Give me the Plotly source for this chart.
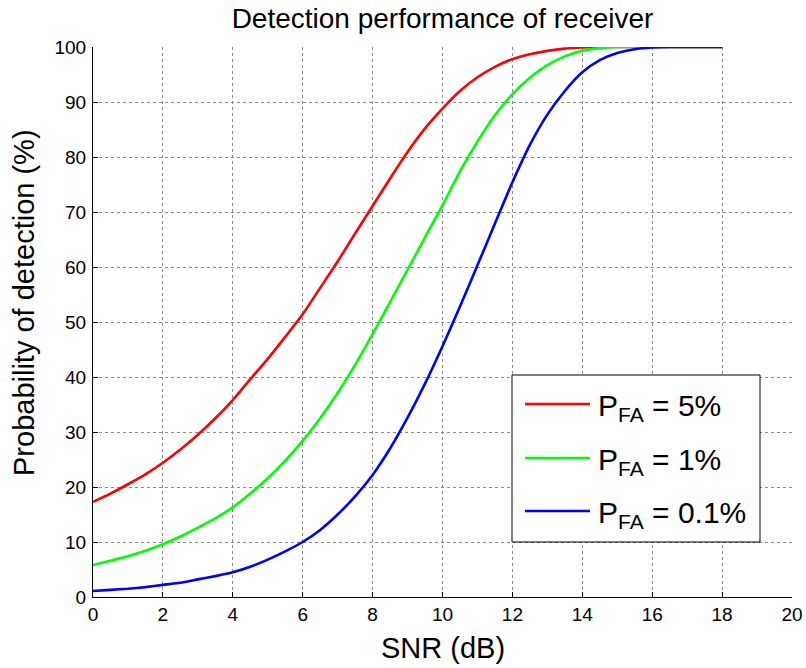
import plotly.graph_objects as go

snr_db = [0, 0.5, 1, 1.5, 2, 2.5, 3, 3.5, 4, 4.5, 5, 5.5, 6, 6.5, 7, 7.5, 8, 8.5,
          9, 9.5, 10, 10.5, 11, 11.5, 12, 12.5, 13, 13.5, 14, 14.5, 15, 15.5, 16,
          16.5, 17, 17.5, 18]

pd_pfa5 = [17.3, 18.8, 20.5, 22.3, 24.4, 26.8, 29.5, 32.5, 35.8, 39.6, 43.3, 47.3,
           51.4, 56.2, 61.0, 66.1, 71.1, 76.1, 80.9, 85.2, 88.8, 92.0, 94.5, 96.4,
           97.8, 98.7, 99.3, 99.7, 99.9, 100, 100, 100, 100, 100, 100, 100, 100]

pd_pfa1 = [5.8, 6.6, 7.4, 8.4, 9.6, 11.0, 12.6, 14.3, 16.3, 18.8, 21.6, 24.8,
           28.4, 32.5, 37.1, 42.2, 47.8, 53.6, 59.5, 65.4, 71.2, 77.4, 82.8, 87.6,
           91.4, 94.4, 96.7, 98.3, 99.3, 99.8, 100, 100, 100, 100, 100, 100, 100]

pd_pfa01 = [1.1, 1.3, 1.5, 1.8, 2.2, 2.6, 3.2, 3.8, 4.5, 5.5, 6.8, 8.3,
            10.0, 12.2, 15.0, 18.3, 22.2, 27.0, 32.6, 38.8, 45.6, 52.8, 60.3, 67.9,
            75.4, 82.2, 87.7, 92.0, 95.4, 97.6, 98.9, 99.6, 99.9, 100, 100, 100, 100]

series_names = ["P<sub>FA</sub> = 5%", "P<sub>FA</sub> = 1%", "P<sub>FA</sub> = 0.1%"]
series_colors = ["#ff0000", "#00ff00", "#0000ff"]
x_ticks = [0, 2, 4, 6, 8, 10, 12, 14, 16, 18, 20]
y_ticks = [0, 10, 20, 30, 40, 50, 60, 70, 80, 90, 100]

FONT = "Liberation Sans, Arial, Helvetica, sans-serif"

fig = go.Figure()
for name, ys, col in zip(series_names, [pd_pfa5, pd_pfa1, pd_pfa01], series_colors):
    fig.add_trace(go.Scatter(x=snr_db, y=ys, mode="lines", name=name,
                             line=dict(color=col, width=2.6, shape="spline", smoothing=0.6),
                             showlegend=False))

axis_common = dict(
    showgrid=True, gridcolor="#8a8a8a", griddash="dot", gridwidth=1,
    showline=True, linecolor="black", linewidth=1,
    ticks="inside", ticklen=5, tickcolor="black", tickwidth=1,
    zeroline=False, automargin=False,
    tickfont=dict(family=FONT, size=19, color="black"),
)

fig.update_layout(
    width=806, height=668,
    margin=dict(l=93, r=14, t=47, b=71),
    paper_bgcolor="white", plot_bgcolor="white",
    font=dict(family=FONT, color="black"),
    title=dict(text="Detection performance of receiver", x=0.5, xref="paper",
               y=1 - 18 / 668, yanchor="middle",
               font=dict(family=FONT, size=28, color="black")),
    xaxis=dict(range=[0, 20], tickvals=x_ticks, ticktext=[str(v) for v in x_ticks],
               **axis_common),
    yaxis=dict(range=[0, 100], tickvals=y_ticks, ticktext=[str(v) for v in y_ticks],
               ticklabelstandoff=2, **axis_common),
    showlegend=False,
)

# Legend box (MATLAB style), placed in paper coordinates of the plot area
PLOT_L, PLOT_W, PLOT_B, PLOT_H = 93, 699, 597, 550


def px_to_paper_x(px):
    return (px - PLOT_L) / PLOT_W


def px_to_paper_y(py):
    return (PLOT_B - py) / PLOT_H


fig.add_shape(type="rect", xref="paper", yref="paper",
              x0=px_to_paper_x(512), x1=px_to_paper_x(760),
              y0=px_to_paper_y(542), y1=px_to_paper_y(375),
              line=dict(color="black", width=1), fillcolor="white", layer="above")
entry_rows = [404, 458, 511]
for name, col, row in zip(series_names, series_colors, entry_rows):
    fig.add_shape(type="line", xref="paper", yref="paper",
                  x0=px_to_paper_x(525), x1=px_to_paper_x(590),
                  y0=px_to_paper_y(row), y1=px_to_paper_y(row),
                  line=dict(color=col, width=2.6), layer="above")
    fig.add_annotation(text=name, xref="paper", yref="paper",
                       x=px_to_paper_x(596), y=px_to_paper_y(row + 3),
                       xanchor="left", yanchor="middle", showarrow=False,
                       font=dict(family=FONT, size=30, color="black"))

fig.add_annotation(text="SNR (dB)", xref="paper", yref="paper", x=0.5, y=px_to_paper_y(648),
                   xanchor="center", yanchor="middle", showarrow=False,
                   font=dict(family=FONT, size=29, color="black"))
fig.add_annotation(text="Probability of detection (%)", xref="paper", yref="paper",
                   x=px_to_paper_x(24), y=px_to_paper_y(303), textangle=-90,
                   xanchor="center", yanchor="middle", showarrow=False,
                   font=dict(family=FONT, size=29, color="black"))

fig.write_html("out.html", config={"displayModeBar": False},
               post_script="document.body.style.margin='0';")
